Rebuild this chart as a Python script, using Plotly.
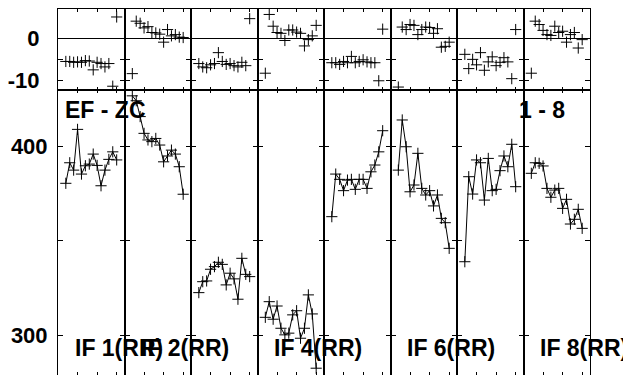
import plotly.graph_objects as go

# sample positions inside each panel
x_pos = list(range(2, 16))

# top row: deviation (same for all panels' scale)
dev_if1 = [-5.5, -5.5, -5.7, -5.6, -5.7, -5.3, -5.4, -7.5, -5.7, -6.0, -6.8, -6.0, -11.4, 5.1]
dev_if2 = [-8.4, 4.1, 3.6, 2.5, 2.8, 1.4, 1.3, 1.0, -0.9, 2.1, 0.6, 0.9, 0.3, 0.2]
dev_if3 = [-6.0, -6.8, -7.0, -6.3, -6.0, -3.4, -5.5, -6.2, -6.0, -6.5, -6.8, -5.7, -6.5, 4.7]
dev_if4 = [-8.3, 5.7, 2.9, 1.4, 1.2, -0.5, 2.0, 2.0, 1.5, 1.2, -1.8, -0.3, 0.6, 3.1]
dev_if5 = [-5.8, -5.8, -6.2, -5.5, -5.8, -4.3, -5.8, -5.5, -5.1, -5.6, -5.8, -5.8, -10.1, 2.2]
dev_if6 = [-11.6, 2.7, 2.1, 3.3, 3.1, 0.9, 2.1, 2.7, 2.6, 1.2, 2.3, -2.1, -1.9, -0.9]
dev_if7 = [-3.8, -7.2, -5.0, -6.3, -3.4, -7.6, -5.6, -4.4, -6.5, -5.7, -4.6, -5.6, -9.6, 2.1]
dev_if8 = [-8.3, 4.1, 3.3, 1.9, 0.9, 0.7, 2.9, 1.4, 1.7, -0.9, 0.9, 1.4, -2.3, -0.3]

# bottom row: RR values
rr_if1 = [380.6, 391.5, 387.6, 409.2, 385.5, 389.9, 390.8, 396.1, 390.1, 379.3, 387.6, 393.3, 397.3, 393.0]
rr_if2 = [427.0, 424.4, 416.0, 407.1, 403.6, 402.7, 404.4, 400.9, 392.0, 395.1, 398.2, 396.1, 389.4, 374.8]
rr_if3 = [322.6, 328.4, 328.8, 335.0, 336.4, 338.7, 337.6, 326.7, 332.9, 329.9, 319.1, 340.8, 332.3, 331.1]
rr_if4 = [309.5, 317.8, 308.5, 315.5, 303.7, 300.2, 301.1, 310.8, 313.0, 298.4, 303.7, 321.4, 311.3, 282.5]
rr_if5 = [362.9, 385.5, 382.7, 376.7, 382.3, 382.7, 377.4, 382.7, 382.7, 377.9, 386.7, 390.3, 397.3, 408.5]
rr_if6 = [387.6, 414.2, 400.0, 376.1, 379.7, 396.5, 377.9, 374.4, 376.7, 368.6, 374.4, 362.0, 359.7, 346.1]
rr_if7 = [339.0, 384.1, 374.9, 393.0, 391.5, 371.7, 393.8, 376.7, 377.4, 387.3, 395.1, 389.4, 401.3, 378.8]
rr_if8 = [385.9, 391.5, 391.2, 389.8, 377.9, 373.2, 377.0, 377.9, 367.3, 372.1, 359.0, 361.5, 366.8, 356.7]

dev_series = [dev_if1, dev_if2, dev_if3, dev_if4, dev_if5, dev_if6, dev_if7, dev_if8]
rr_series = [rr_if1, rr_if2, rr_if3, rr_if4, rr_if5, rr_if6, rr_if7, rr_if8]
panel_labels = ["IF 1(RR)", "IF 2(RR)", "", "IF 4(RR)", "", "IF 6(RR)", "", "IF 8(RR)"]

# page has an 8px body margin, so the figure is sized/offset to compensate
OFF = 8
W, H = 631 - OFF, 375 - OFF
L, R, T, B = 58 - OFF, 41, 9 - OFF, 0
plot_w = W - L - R
plot_h = H - T - B
split = (375 - 90) / plot_h  # row boundary at 90px on the page

FONT = "Liberation Sans, Arial, sans-serif"
n_panels = len(dev_series)

fig = go.Figure()
layout = {}

for k in range(n_panels):
    dom_x = [k / n_panels, (k + 1) / n_panels]
    for r in range(2):
        n = r * n_panels + k + 1
        xa = "x" if n == 1 else f"x{n}"
        ya = "y" if n == 1 else f"y{n}"
        if r == 0:
            fig.add_trace(go.Scatter(
                x=x_pos, y=dev_series[k], mode="markers",
                marker=dict(symbol="cross-thin", size=8, line=dict(width=1, color="black")),
                xaxis=xa, yaxis=ya, showlegend=False, hoverinfo="skip"))
        else:
            fig.add_trace(go.Scatter(
                x=x_pos, y=rr_series[k], mode="lines+markers",
                line=dict(color="black", width=1),
                marker=dict(symbol="cross-thin", size=8, line=dict(width=1, color="black")),
                xaxis=xa, yaxis=ya, showlegend=False, hoverinfo="skip"))

        layout[f"xaxis{n}" if n > 1 else "xaxis"] = dict(
            domain=dom_x, anchor=ya, range=[0, 17], tickvals=[5, 10, 15],
            ticks="inside", ticklen=3, tickcolor="black", showticklabels=False,
            showline=True, linecolor="black", linewidth=1, mirror="ticks",
            showgrid=False, zeroline=False, automargin=False)

        if r == 0:
            ydict = dict(domain=[split, 1], range=[-12.3, 7],
                         tickvals=[-10, -5, 0], ticktext=["-10", "", "0"],
                         zeroline=True, zerolinecolor="black", zerolinewidth=1,
                         ticklabelstandoff=13)
        else:
            ydict = dict(domain=[0, split], range=[278.9, 430.1],
                         tickvals=[300, 350, 400], ticktext=["300", "", "400"],
                         zeroline=False, ticklabelstandoff=5)
        ydict.update(anchor=xa, ticks="inside", ticklen=5, tickcolor="black",
                     showticklabels=(k == 0), showline=True, linecolor="black",
                     linewidth=1, mirror="ticks", showgrid=False, automargin=False,
                     tickfont=dict(family=FONT, size=22, color="black", weight="bold"))
        layout[f"yaxis{n}" if n > 1 else "yaxis"] = ydict

fig.update_layout(**layout)


def px_x(p):
    # page x pixel -> paper coordinate
    return (p - OFF - L) / plot_w


def px_y(p):
    # page y pixel -> paper coordinate
    return (H - B - (p - OFF)) / plot_h


annots = []
label_font = dict(family=FONT, size=23, color="black", weight="bold")
annots.append(dict(text="EF - ZC", x=px_x(63), y=px_y(110), xanchor="left", yanchor="middle"))
annots.append(dict(text="1 - 8", x=px_x(517), y=px_y(110), xanchor="left", yanchor="middle"))
for k, lab in enumerate(panel_labels):
    if lab:
        annots.append(dict(text=lab, x=(k + 0.22) / n_panels, y=px_y(348),
                           xanchor="left", yanchor="middle"))
# title, mostly cut off above the figure
annots.append(dict(text="Mean RR (EF - ZC, 1 - 8)", x=px_x(10), y=px_y(4),
                   xanchor="left", yanchor="bottom"))
for a in annots:
    a.update(xref="paper", yref="paper", showarrow=False, font=label_font)

fig.update_layout(
    width=W, height=H,
    margin=dict(l=L, r=R, t=T, b=B),
    paper_bgcolor="white", plot_bgcolor="white",
    annotations=annots,
    showlegend=False,
)

fig.write_html("out.html")
